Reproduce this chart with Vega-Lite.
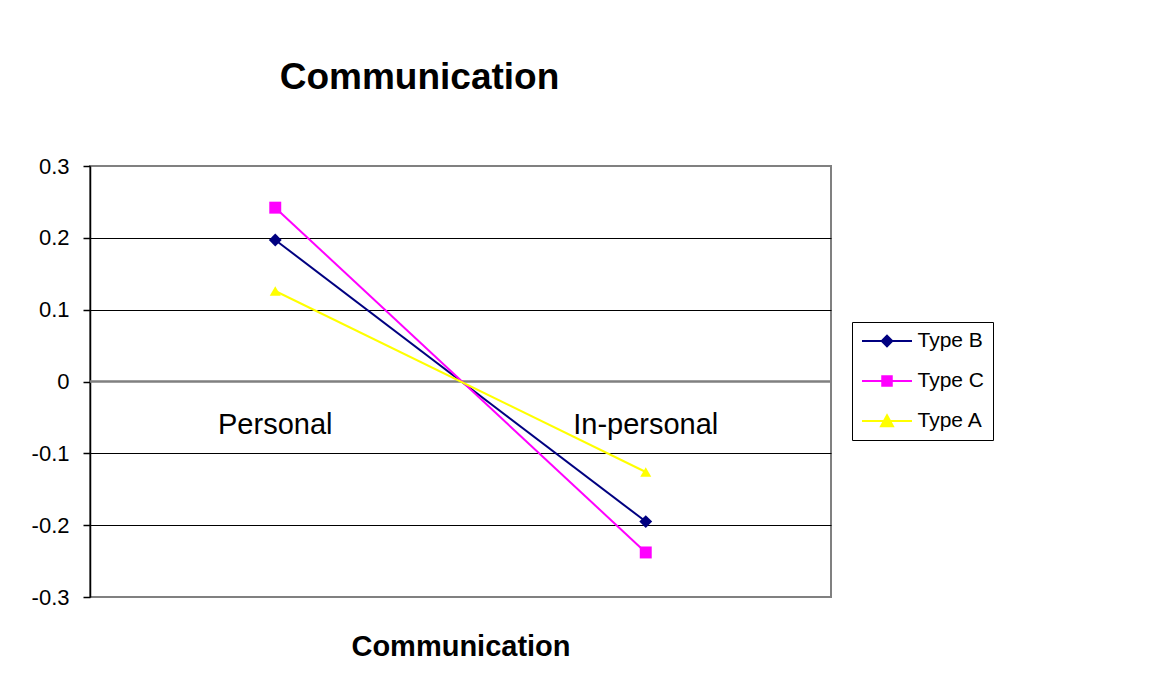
{
  "$schema": "https://vega.github.io/schema/vega-lite/v6.json",
  "width": 741,
  "height": 431,
  "autosize": {"type": "none"},
  "padding": {"left": 90, "top": 166, "right": 318, "bottom": 79},
  "background": "white",
  "title": {"text": "Communication", "font": "Liberation Sans", "fontSize": 37, "fontWeight": "bold", "color": "black", "anchor": "middle", "frame": "group", "dx": -41, "offset": 29, "baseline": "alphabetic"},
  "datasets": {
    "series": [
      {"type": "Type B", "category": "Personal", "value": 0.197},
      {"type": "Type B", "category": "In-personal", "value": -0.195},
      {"type": "Type C", "category": "Personal", "value": 0.242},
      {"type": "Type C", "category": "In-personal", "value": -0.238},
      {"type": "Type A", "category": "Personal", "value": 0.126},
      {"type": "Type A", "category": "In-personal", "value": -0.126}
    ],
    "cats": [
      {"category": "Personal"},
      {"category": "In-personal"}
    ]
  },
  "config": {
    "view": {"stroke": "#808080", "strokeWidth": 2},
    "font": "Liberation Sans",
    "axisX": {"labels": false, "ticks": false, "domain": false, "grid": false, "titleFont": "Liberation Sans", "titleFontSize": 29, "titleFontWeight": "bold", "titleColor": "black", "titlePadding": 58, "titleBaseline": "alphabetic"},
    "axisY": {"grid": true, "domainColor": "black", "domainWidth": 1.5, "tickColor": "black", "tickSize": 7, "tickWidth": 1.5, "labelFont": "Liberation Sans", "labelFontSize": 22, "labelColor": "black", "labelPadding": 14, "gridColor": "black", "gridWidth": 1}
  },
  "layer": [
    {
      "data": {"name": "cats"},
      "mark": {"type": "rule", "color": "#808080", "strokeWidth": 2},
      "encoding": {"y": {"datum": 0, "type": "quantitative", "scale": {"domain": [-0.3, 0.3], "nice": false, "zero": false}, "axis": {"title": null}}}
    },
    {
      "data": {"name": "cats"},
      "mark": {"type": "text", "font": "Liberation Sans", "fontSize": 29, "color": "black", "baseline": "alphabetic", "dy": 52},
      "encoding": {
        "x": {"field": "category", "type": "nominal", "scale": {"type": "point", "padding": 0.5, "domain": ["Personal", "In-personal"]}, "axis": {"title": "Communication"}},
        "y": {"datum": 0, "type": "quantitative"},
        "text": {"field": "category"}
      }
    },
    {
      "data": {"name": "series"},
      "mark": {"type": "line", "strokeWidth": 2},
      "encoding": {
        "x": {"field": "category", "type": "nominal", "scale": {"type": "point", "padding": 0.5, "domain": ["Personal", "In-personal"]}, "axis": {"title": "Communication"}},
        "y": {"field": "value", "type": "quantitative", "scale": {"domain": [-0.3, 0.3], "nice": false, "zero": false}, "axis": {"title": null, "grid": true, "values": [-0.3, -0.2, -0.1, 0, 0.1, 0.2, 0.3], "labelExpr": "datum.value < -0.001 ? '-' + format(-datum.value, '.1~f') : format(abs(datum.value), '.1~f')", "gridOpacity": {"condition": {"test": "abs(datum.value) > 0.25 || abs(datum.value) < 0.01", "value": 0}, "value": 1}}},
        "color": {"field": "type", "type": "nominal", "scale": {"domain": ["Type B", "Type C", "Type A"], "range": ["#000080", "#FF00FF", "#FFFF00"]}, "legend": null}
      }
    },
    {
      "data": {"name": "series"},
      "mark": {"type": "point", "filled": true, "opacity": 1},
      "encoding": {
        "x": {"field": "category", "type": "nominal", "axis": {"title": "Communication"}},
        "y": {"field": "value", "type": "quantitative", "axis": {"title": null}},
        "color": {"field": "type", "type": "nominal", "scale": {"domain": ["Type B", "Type C", "Type A"], "range": ["#000080", "#FF00FF", "#FFFF00"]}, "legend": null},
        "shape": {"field": "type", "type": "nominal", "scale": {"domain": ["Type B", "Type C", "Type A"], "range": ["diamond", "square", "triangle-up"]}, "legend": null},
        "size": {"field": "type", "type": "ordinal", "scale": {"domain": ["Type B", "Type C", "Type A"], "range": [165, 121, 170]}, "legend": null}
      }
    },
    {
      "data": {"name": "series"},
      "transform": [{"filter": "false"}],
      "mark": {"type": "point", "filled": true, "size": 100, "opacity": 1},
      "encoding": {
        "fill": {"field": "type", "type": "nominal", "scale": {"domain": ["Type B", "Type C", "Type A"], "range": ["#000080", "#FF00FF", "#FFFF00"]},
          "legend": {"title": null, "orient": "none", "legendX": 762, "legendY": 156, "strokeColor": "black", "fillColor": "white", "padding": 8.5, "labelFont": "Liberation Sans", "labelFontSize": 21, "labelColor": "black", "symbolSize": 100, "symbolStrokeWidth": 2, "symbolOpacity": 1, "symbolOffset": 16, "labelOffset": 20, "rowPadding": 18, "encode": {"entries": {"update": {"width": {"value": 300}}}}}},
        "stroke": {"field": "type", "type": "nominal", "scale": {"domain": ["Type B", "Type C", "Type A"], "range": ["#000080", "#FF00FF", "#FFFF00"]},
          "legend": {"title": null, "orient": "none", "legendX": 762, "legendY": 156, "strokeColor": "black", "fillColor": "white", "padding": 8.5, "labelFont": "Liberation Sans", "labelFontSize": 21, "labelColor": "black", "symbolSize": 100, "symbolStrokeWidth": 2, "symbolOpacity": 1, "symbolOffset": 16, "labelOffset": 20, "rowPadding": 18}},
        "shape": {"field": "type", "type": "nominal", "scale": {"domain": ["Type B", "Type C", "Type A"], "range": ["M-5,0H5M0,-1.05L1.05,0L0,1.05L-1.05,0Z", "M-5,0H5M-0.95,-0.95H0.95V0.95H-0.95Z", "M-5,0H5M0,-1.15L1.2,1.05H-1.2Z"]},
          "legend": {"title": null, "orient": "none", "legendX": 762, "legendY": 156, "strokeColor": "black", "fillColor": "white", "padding": 8.5, "labelFont": "Liberation Sans", "labelFontSize": 21, "labelColor": "black", "symbolSize": 100, "symbolStrokeWidth": 2, "symbolOpacity": 1, "symbolOffset": 16, "labelOffset": 20, "rowPadding": 18}}
      }
    }
  ],
  "resolve": {"scale": {"shape": "independent", "fill": "independent", "stroke": "independent", "size": "independent"}}
}
